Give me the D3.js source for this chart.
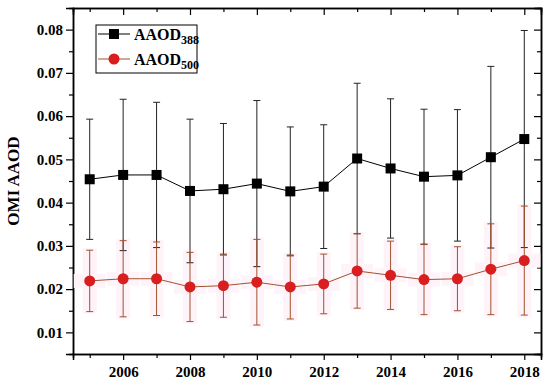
<!DOCTYPE html>
<html lang="en">
<head>
  <meta charset="utf-8">
  <title>OMI AAOD</title>
  <script src="https://cdn.jsdelivr.net/npm/d3@7"></script>
  <style>
    body { margin: 0; background: #fff; }
    text { font-family: "Liberation Serif", "Times New Roman", serif; font-weight: bold; }
    .axis path { stroke: #000; stroke-width: 1.5; }
    .axis line { stroke: #000; stroke-width: 1.2; }
    .axis text { font-size: 15px; fill: #000; }
  </style>
</head>
<body>
<script>
// data
var years = [2005, 2006, 2007, 2008, 2009, 2010, 2011, 2012, 2013, 2014, 2015, 2016, 2017, 2018];
var aaod388 = [0.0454, 0.0464, 0.0464, 0.0427, 0.0431, 0.0444, 0.0426, 0.0437, 0.0502, 0.0479, 0.0460, 0.0463, 0.0505, 0.0547];
var err388  = [0.0139, 0.0175, 0.0168, 0.0166, 0.0152, 0.0192, 0.0149, 0.0143, 0.0174, 0.0161, 0.0156, 0.0152, 0.0210, 0.0251];
var aaod500 = [0.0219, 0.0224, 0.0224, 0.0205, 0.0208, 0.0216, 0.0205, 0.0212, 0.0242, 0.0232, 0.0222, 0.0224, 0.0246, 0.0266];
var err500  = [0.0071, 0.0088, 0.0085, 0.0080, 0.0073, 0.0099, 0.0074, 0.0069, 0.0086, 0.0079, 0.0081, 0.0074, 0.0105, 0.0126];
var yMajor = [0.01, 0.02, 0.03, 0.04, 0.05, 0.06, 0.07, 0.08];
var yMinor = [0.015, 0.025, 0.035, 0.045, 0.055, 0.065, 0.075];
var xMajor = [2006, 2008, 2010, 2012, 2014, 2016, 2018];
var xMinor = [2005, 2007, 2009, 2011, 2013, 2015, 2017];

var w = 550, h = 388;
var pLeft = 73, pRight = 541, pTop = 8, pBottom = 354;

var svg = d3.select("body").append("svg").attr("width", w).attr("height", h);

var x = d3.scaleLinear().domain([2004.5, 2018.5]).range([pLeft, pRight]);
var y = d3.scaleLinear().domain([0.005, 0.085]).range([pBottom, pTop]);

// minor ticks first so the major axes sit on top
svg.append("g").attr("class", "axis").attr("transform", "translate(" + pLeft + ",0)")
  .call(d3.axisLeft(y).tickValues(yMinor).tickSize(4).tickFormat(""));
svg.append("g").attr("class", "axis").attr("transform", "translate(" + pRight + ",0)")
  .call(d3.axisRight(y).tickValues(yMinor).tickSize(-4).tickFormat(""));
svg.append("g").attr("class", "axis").attr("transform", "translate(0," + pBottom + ")")
  .call(d3.axisBottom(x).tickValues(xMinor).tickSize(4).tickFormat(""));
svg.append("g").attr("class", "axis").attr("transform", "translate(0," + pTop + ")")
  .call(d3.axisTop(x).tickValues(xMinor).tickSize(-4).tickFormat(""));

svg.append("g").attr("class", "axis").attr("transform", "translate(" + pLeft + ",0)")
  .call(d3.axisLeft(y).tickValues(yMajor).tickSize(7).tickPadding(3).tickFormat(d3.format(".2f")));
svg.append("g").attr("class", "axis").attr("transform", "translate(" + pRight + ",0)")
  .call(d3.axisRight(y).tickValues(yMajor).tickSize(-7).tickFormat(""));
svg.append("g").attr("class", "axis").attr("transform", "translate(0," + pBottom + ")")
  .call(d3.axisBottom(x).tickValues(xMajor).tickSize(6).tickPadding(6).tickFormat(d3.format("d")));
svg.append("g").attr("class", "axis").attr("transform", "translate(0," + pTop + ")")
  .call(d3.axisTop(x).tickValues(xMajor).tickSize(-7).tickFormat(""));

svg.selectAll(".axis .domain").attr("stroke-width", 2);

svg.append("text")
  .attr("transform", "translate(19," + ((pTop + pBottom) / 2) + ") rotate(-90)")
  .attr("text-anchor", "middle")
  .attr("font-size", 17)
  .text("OMI AAOD");

// very faint pink halo behind the red error bars
var halo = svg.append("g");
years.forEach(function(yr, i) {
  halo.append("rect")
    .attr("x", x(yr) - 7).attr("width", 14)
    .attr("y", y(aaod500[i] + err500[i]) - 2)
    .attr("height", y(aaod500[i] - err500[i]) - y(aaod500[i] + err500[i]) + 4)
    .attr("fill", "#fff3fa");
  halo.append("rect")
    .attr("x", x(yr) - 16).attr("width", 32)
    .attr("y", y(aaod500[i]) - 7).attr("height", 14)
    .attr("fill", "#fff3fa");
});

var drawBars = function(vals, errs, colour) {
  var g = svg.append("g").attr("stroke", colour).attr("stroke-width", 1);
  years.forEach(function(yr, i) {
    var cx = x(yr), t = y(vals[i] + errs[i]), b = y(vals[i] - errs[i]);
    g.append("line").attr("x1", cx).attr("x2", cx).attr("y1", t).attr("y2", b);
    g.append("line").attr("x1", cx - 3.5).attr("x2", cx + 3.5).attr("y1", t).attr("y2", t);
    g.append("line").attr("x1", cx - 3.5).attr("x2", cx + 3.5).attr("y1", b).attr("y2", b);
  });
};

drawBars(aaod388, err388, "#222");
drawBars(aaod500, err500, "#a0522d");

var seriesLine = d3.line().x(function(d, i) { return x(years[i]); }).y(function(d) { return y(d); });

svg.append("path").datum(aaod388).attr("fill", "none").attr("stroke", "#000").attr("stroke-width", 1).attr("d", seriesLine);
svg.append("path").datum(aaod500).attr("fill", "none").attr("stroke", "#a0522d").attr("stroke-width", 1).attr("d", seriesLine);

svg.selectAll(".sq").data(aaod388).enter().append("rect")
  .attr("x", function(d, i) { return x(years[i]) - 5; })
  .attr("y", function(d) { return y(d) - 5; })
  .attr("width", 10).attr("height", 10)
  .attr("fill", "#000");

svg.selectAll(".dot").data(aaod500).enter().append("circle")
  .attr("cx", function(d, i) { return x(years[i]); })
  .attr("cy", function(d) { return y(d); })
  .attr("r", 5.5)
  .attr("fill", "#d81e1e");

// legend
var lg = svg.append("g");
lg.append("rect").attr("x", 96).attr("y", 25).attr("width", 101).attr("height", 48)
  .attr("fill", "#fff").attr("stroke", "#000").attr("stroke-width", 1);
lg.append("line").attr("x1", 98).attr("x2", 130).attr("y1", 34).attr("y2", 34).attr("stroke", "#000");
lg.append("rect").attr("x", 109).attr("y", 29).attr("width", 10).attr("height", 10).attr("fill", "#000");
lg.append("line").attr("x1", 98).attr("x2", 130).attr("y1", 59).attr("y2", 59).attr("stroke", "#a0522d");
lg.append("circle").attr("cx", 114).attr("cy", 59).attr("r", 5.5).attr("fill", "#d81e1e");

var labels = [["AAOD", "388", 40], ["AAOD", "500", 65]];
labels.forEach(function(l) {
  var t = lg.append("text").attr("x", 134).attr("y", l[2]).attr("font-size", 16);
  t.append("tspan").text(l[0]);
  t.append("tspan").attr("font-size", 12).attr("dy", 4).text(l[1]);
});
</script>
</body>
</html>
